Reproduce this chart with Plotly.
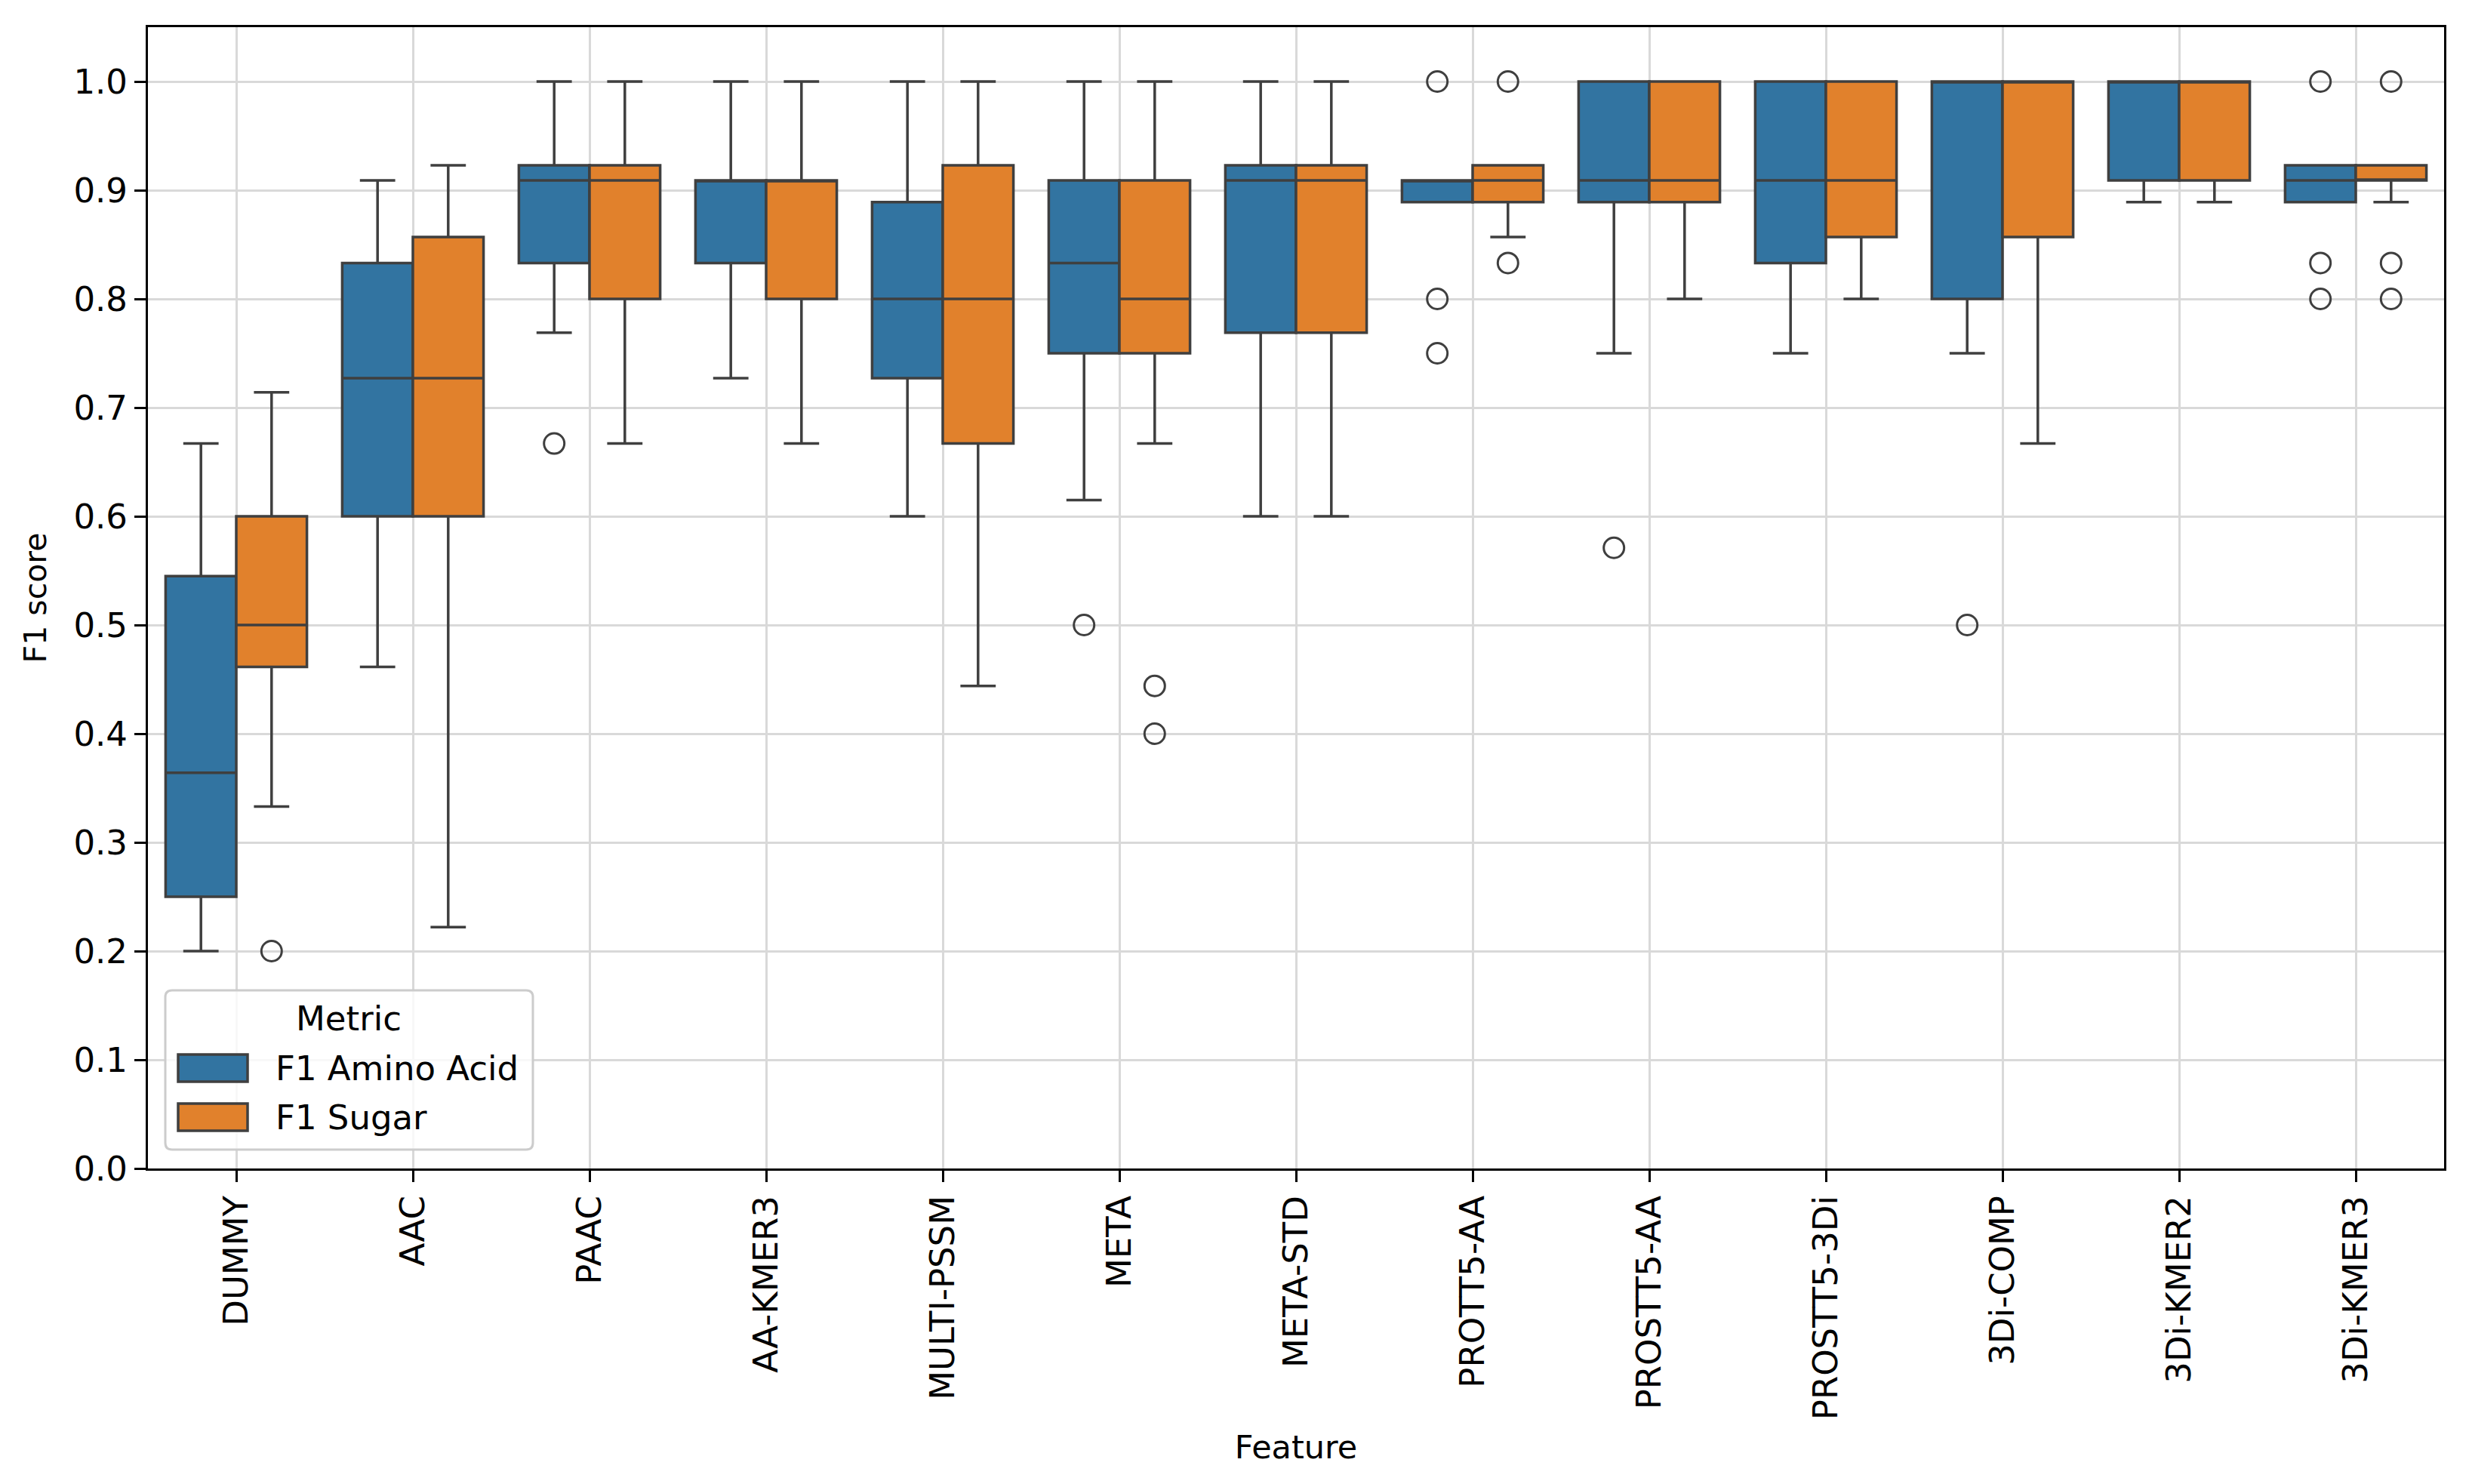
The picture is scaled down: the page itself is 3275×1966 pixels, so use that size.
import plotly.graph_objects as go

features = ["DUMMY", "AAC", "PAAC", "AA-KMER3", "MULTI-PSSM", "META", "META-STD",
            "PROTT5-AA", "PROSTT5-AA", "PROSTT5-3Di", "3Di-COMP", "3Di-KMER2", "3Di-KMER3"]

# F1 Amino Acid box stats
aa_low = [0.2, 0.4615, 0.769, 0.727, 0.6, 0.615, 0.6, 0.889, 0.75, 0.75, 0.75, 0.889, 0.889]
aa_q1 = [0.25, 0.6, 0.833, 0.833, 0.727, 0.75, 0.769, 0.889, 0.889, 0.833, 0.8, 0.909, 0.889]
aa_med = [0.364, 0.727, 0.909, 0.909, 0.8, 0.833, 0.909, 0.909, 0.909, 0.909, 1.0, 1.0, 0.909]
aa_q3 = [0.545, 0.833, 0.923, 0.909, 0.889, 0.909, 0.923, 0.909, 1.0, 1.0, 1.0, 1.0, 0.923]
aa_high = [0.667, 0.909, 1.0, 1.0, 1.0, 1.0, 1.0, 0.909, 1.0, 1.0, 1.0, 1.0, 0.923]
aa_out_x = ["PAAC", "META", "PROTT5-AA", "PROTT5-AA", "PROTT5-AA", "PROSTT5-AA", "3Di-COMP",
            "3Di-KMER3", "3Di-KMER3", "3Di-KMER3"]
aa_out_y = [0.667, 0.5, 1.0, 0.8, 0.75, 0.571, 0.5, 1.0, 0.833, 0.8]

# F1 Sugar box stats
su_low = [0.333, 0.222, 0.667, 0.667, 0.444, 0.667, 0.6, 0.857, 0.8, 0.8, 0.667, 0.889, 0.889]
su_q1 = [0.4615, 0.6, 0.8, 0.8, 0.667, 0.75, 0.769, 0.889, 0.889, 0.857, 0.857, 0.909, 0.909]
su_med = [0.5, 0.727, 0.909, 0.909, 0.8, 0.8, 0.909, 0.909, 0.909, 0.909, 1.0, 1.0, 0.909]
su_q3 = [0.6, 0.857, 0.923, 0.909, 0.923, 0.909, 0.923, 0.923, 1.0, 1.0, 1.0, 1.0, 0.923]
su_high = [0.714, 0.923, 1.0, 1.0, 1.0, 1.0, 1.0, 0.923, 1.0, 1.0, 1.0, 1.0, 0.923]
su_out_x = ["DUMMY", "META", "META", "PROTT5-AA", "PROTT5-AA", "3Di-KMER3", "3Di-KMER3", "3Di-KMER3"]
su_out_y = [0.2, 0.444, 0.4, 1.0, 0.833, 1.0, 0.833, 0.8]

BLUE = "#3274a1"
ORANGE = "#e1812c"
EDGE = "#3f3f3f"
W, H = 3275, 1966
L, R, T, B = 196, 37, 36, 418
pos = {f: i for i, f in enumerate(features)}

fig = go.Figure()
series = [
    ("F1 Amino Acid", BLUE, -0.2, aa_low, aa_q1, aa_med, aa_q3, aa_high, aa_out_x, aa_out_y),
    ("F1 Sugar", ORANGE, 0.2, su_low, su_q1, su_med, su_q3, su_high, su_out_x, su_out_y),
]
for name, col, off, lo, q1, med, q3, hi, ox, oy in series:
    fig.add_trace(go.Box(
        name=name, x=[i + off for i in range(len(features))],
        q1=q1, median=med, q3=q3, lowerfence=lo, upperfence=hi,
        width=0.4, whiskerwidth=0.5, fillcolor=col, showlegend=False,
        line=dict(color=EDGE, width=3.5), boxpoints=False, hoverinfo="skip",
    ))
    fig.add_trace(go.Scatter(
        x=[pos[f] + off for f in ox], y=oy, mode="markers", showlegend=False,
        marker=dict(symbol="circle-open", size=27, color=EDGE, line=dict(width=3, color=EDGE)),
    ))

FS = 45
fnt = dict(family="DejaVu Sans", size=FS, color="black")


# legend drawn by hand (matplotlib style), positions given in figure pixels
def px(x):
    return (x - L) / (W - L - R)


def py(y):
    return (H - B - y) / (H - T - B)


def rounded(x0, y0, x1, y1, r):
    rx = r / (W - L - R)
    ry = r / (H - T - B)
    a0, a1, b0, b1 = px(x0), px(x1), py(y1), py(y0)
    return (f"M {a0+rx},{b0} L {a1-rx},{b0} Q {a1},{b0} {a1},{b0+ry} "
            f"L {a1},{b1-ry} Q {a1},{b1} {a1-rx},{b1} L {a0+rx},{b1} "
            f"Q {a0},{b1} {a0},{b1-ry} L {a0},{b0+ry} Q {a0},{b0} {a0+rx},{b0} Z")


shapes = [dict(type="path", xref="paper", yref="paper", path=rounded(219, 1312, 706, 1523, 9),
               fillcolor="rgba(255,255,255,0.8)", line=dict(color="#cccccc", width=3))]
annotations = [dict(text="Metric", x=px(462), y=py(1349), xref="paper", yref="paper",
                    showarrow=False, font=fnt, xanchor="center", yanchor="middle")]
for k, (name, col) in enumerate([("F1 Amino Acid", BLUE), ("F1 Sugar", ORANGE)]):
    yc = 1415 + k * 65
    shapes.append(dict(type="rect", xref="paper", yref="paper",
                       x0=px(236), x1=px(328), y0=py(yc + 18), y1=py(yc - 18),
                       fillcolor=col, line=dict(color=EDGE, width=3.5)))
    annotations.append(dict(text=name, x=px(363), y=py(yc), xref="paper", yref="paper",
                            showarrow=False, font=fnt, xanchor="left", yanchor="middle"))

fig.update_layout(
    width=W, height=H,
    margin=dict(l=L, r=R, t=T, b=B),
    paper_bgcolor="white", plot_bgcolor="white",
    font=fnt, boxmode="overlay", showlegend=False,
    shapes=shapes, annotations=annotations,
)
fig.update_xaxes(
    range=[-0.5, len(features) - 0.5], tickvals=list(range(len(features))), ticktext=features,
    tickangle=-90, ticks="outside", ticklen=15, tickwidth=3, tickcolor="black",
    showgrid=True, gridcolor="#d9d9d9", gridwidth=2.5,
    showline=True, linecolor="black", linewidth=3, mirror=True, zeroline=False,
    title=dict(text="Feature", font=dict(family="DejaVu Sans", size=43, color="black"), standoff=22),
    tickfont=fnt,
)
fig.update_yaxes(
    range=[0, 1.05], tickvals=[i / 10 for i in range(11)], tickformat=".1f",
    ticks="outside", ticklen=15, tickwidth=3, tickcolor="black",
    showgrid=True, gridcolor="#d9d9d9", gridwidth=2.5,
    showline=True, linecolor="black", linewidth=3, mirror=True, zeroline=False,
    title=dict(text="F1 score", font=dict(family="DejaVu Sans", size=41, color="black"), standoff=24),
    tickfont=fnt,
)
fig.write_html("out.html", config={"displayModeBar": False},
               post_script="document.body.style.margin='0';")
